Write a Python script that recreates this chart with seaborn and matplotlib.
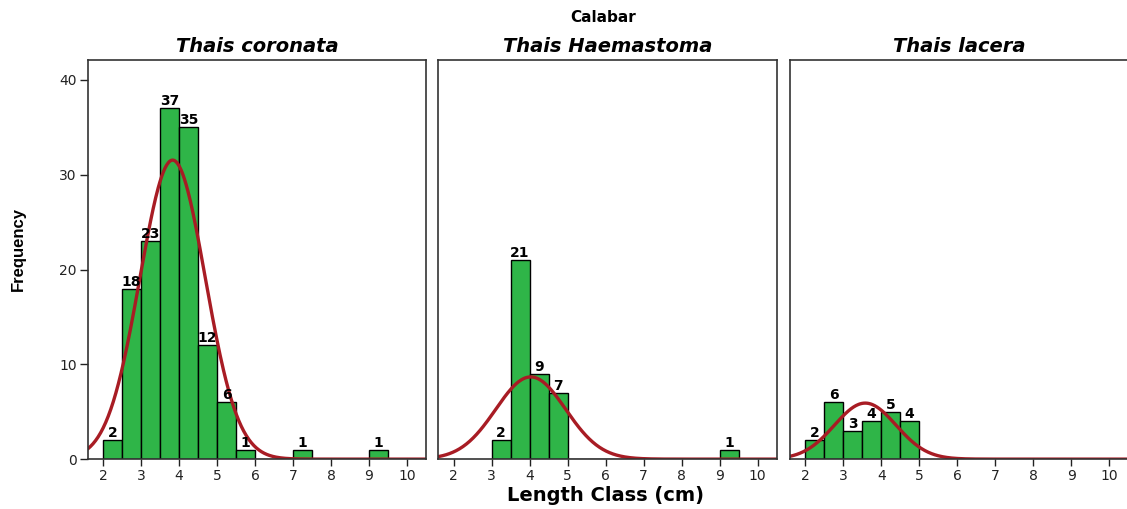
import numpy as np
import pandas as pd
import matplotlib
matplotlib.use("Agg")
import matplotlib.pyplot as plt
import seaborn as sns

# Class midpoints (cm), bin width 0.5
mid_coronata = [2.25, 2.75, 3.25, 3.75, 4.25, 4.75, 5.25, 5.75, 7.25, 9.25]
cnt_coronata = [2, 18, 23, 37, 35, 12, 6, 1, 1, 1]

mid_haemastoma = [3.25, 3.75, 4.25, 4.75, 9.25]
cnt_haemastoma = [2, 21, 9, 7, 1]

mid_lacera = [2.25, 2.75, 3.25, 3.75, 4.25, 4.75]
cnt_lacera = [2, 6, 3, 4, 5, 4]

# fitted normal curve (mean, sd)
fit_coronata = (3.83, 0.86)
fit_haemastoma = (4.03, 0.92)
fit_lacera = (3.58, 0.81)

species = ["Thais coronata", "Thais Haemastoma", "Thais lacera"]
x_ticks = [2, 3, 4, 5, 6, 7, 8, 9, 10]
y_ticks = [0, 10, 20, 30, 40]

panels = [
    (mid_coronata, cnt_coronata, fit_coronata),
    (mid_haemastoma, cnt_haemastoma, fit_haemastoma),
    (mid_lacera, cnt_lacera, fit_lacera),
]

sns.set_style("white")
plt.rcParams["font.family"] = ["DejaVu Sans"]
plt.rcParams["text.color"] = "black"

bar_color = "#2fb548"
curve_color = "#a81c24"
binw = 0.5

fig = plt.figure(figsize=(11.27, 5.09), dpi=100)
lefts = [0.078, 0.389, 0.701]

for i, (mids, cnts, fit) in enumerate(panels):
    ax = fig.add_axes([lefts[i], 0.098, 0.300, 0.784])
    df = pd.DataFrame({"mid": mids, "n": cnts})
    lo = min(mids) - binw / 2
    hi = max(mids) + binw / 2
    sns.histplot(data=df, x="mid", weights="n", binwidth=binw, binrange=(lo, hi), ax=ax,
                 color=bar_color, alpha=1, edgecolor="black", linewidth=1.0)

    # labels over bars
    cont = ax.containers[0]
    labs = [str(int(round(b.get_height()))) if b.get_height() > 0 else "" for b in cont]
    ax.bar_label(cont, labels=labs, padding=0, fontsize=10, fontweight="bold", color="black")

    # normal curve scaled to frequency
    mu, sd = fit
    n_total = sum(cnts)
    xs = np.linspace(1.6, 10.5, 400)
    ys = n_total * binw * np.exp(-0.5 * ((xs - mu) / sd) ** 2) / (sd * np.sqrt(2 * np.pi))
    sns.lineplot(x=xs, y=ys, ax=ax, color=curve_color, linewidth=2.4)

    ax.set_xlim(1.6, 10.5)
    ax.set_ylim(0, 42.1)
    ax.set_xticks(x_ticks)
    ax.set_xticklabels([str(t) for t in x_ticks], fontsize=10, color="#222222")
    ax.tick_params(axis="x", direction="out", length=5, width=1, bottom=True, pad=2, color="#222222")
    if i == 0:
        ax.set_yticks(y_ticks)
        ax.set_yticklabels([str(t) for t in y_ticks], fontsize=10, color="#222222")
        ax.tick_params(axis="y", direction="out", length=6, width=1, left=True, pad=2, color="#222222")
    else:
        ax.set_yticks([])
    ax.set_xlabel("")
    ax.set_ylabel("")
    for s in ax.spines.values():
        s.set_visible(True)
        s.set_color("#333333")
        s.set_linewidth(1.2)
    ax.set_title(species[i], fontsize=14, fontweight="bold", style="italic", pad=6, color="black")

fig.text(0.535, 0.965, "Calabar", ha="center", va="center", fontsize=11, fontweight="bold")
fig.text(0.537, 0.027, "Length Class (cm)", ha="center", va="center", fontsize=14, fontweight="bold")
fig.text(0.016, 0.51, "Frequency", ha="center", va="center", rotation=90, fontsize=12,
         fontweight="bold", family="Liberation Sans")

fig.savefig("out.png", dpi=100)
